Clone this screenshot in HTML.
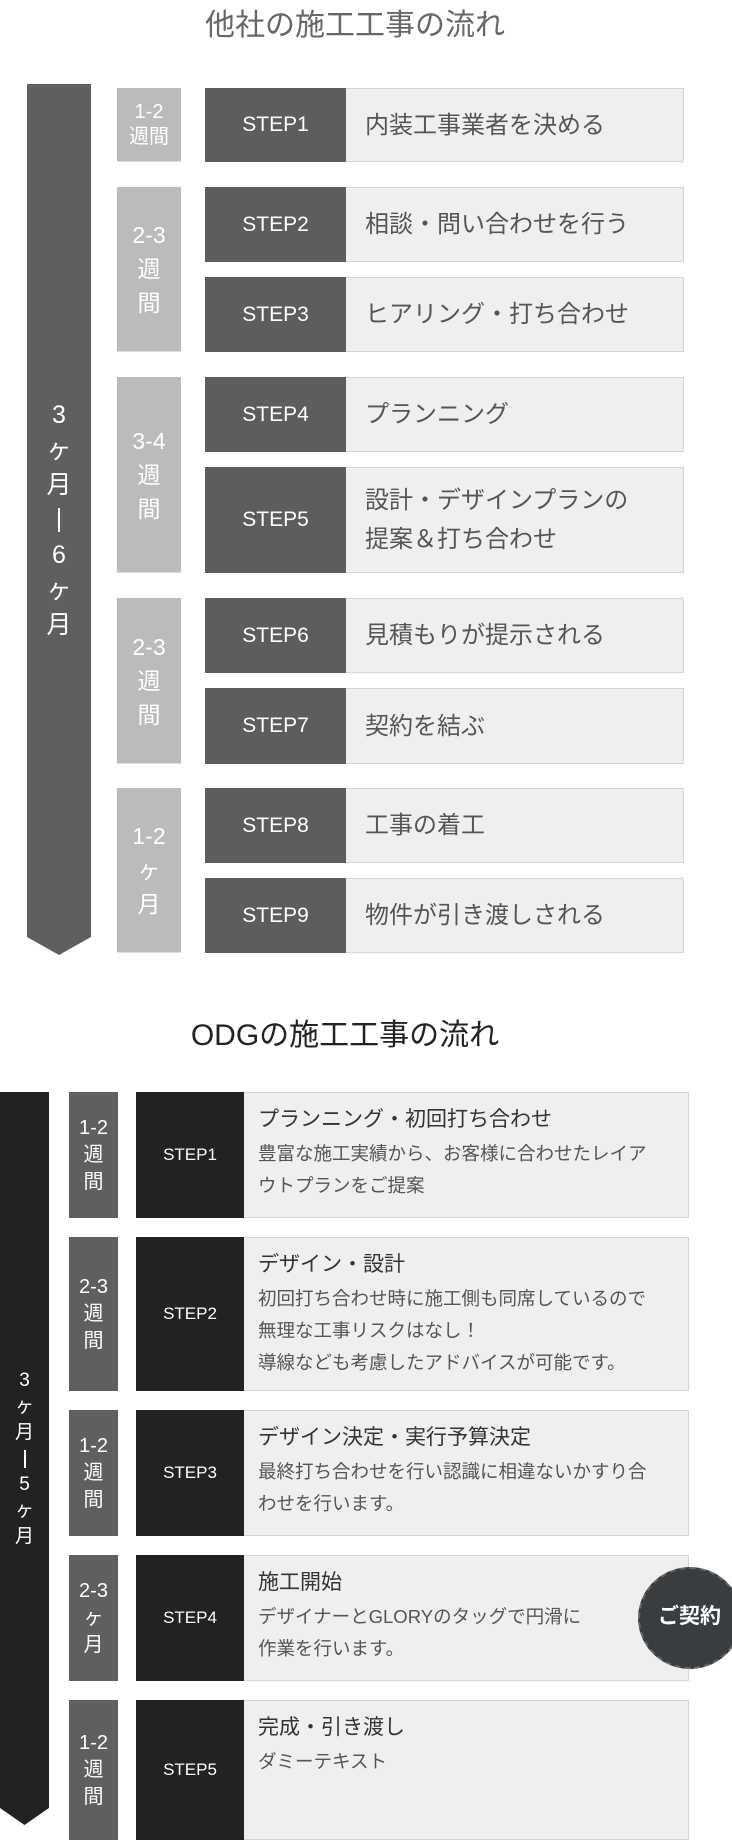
<!DOCTYPE html>
<html><head><meta charset="utf-8">
<style>
*{margin:0;padding:0;box-sizing:border-box}
body{width:732px;height:1825px;background:#fff;position:relative;overflow:hidden;font-family:"Liberation Sans","Noto Sans CJK JP",sans-serif}
.a{position:absolute}
.t1{left:0;width:710px;top:6px;text-align:center;font-size:30px;color:#666;line-height:40px}
.t2{left:0;width:690px;top:1016px;text-align:center;font-size:30px;color:#222;line-height:40px}
.col{display:flex;flex-direction:column;align-items:center;justify-content:center;color:#fff;text-align:center}
.p1{left:117px;width:64px;background:#bbb;font-size:23px;line-height:34px;border-bottom:1px solid #ddd}
.s1{left:205px;width:479px;background:#efefef;border:1px solid #d4d4d4;display:flex}
.s1 .d{width:141px;background:#5d5d5d;color:#fff;font-size:21px;display:flex;align-items:center;justify-content:center;margin:-1px 0 -1px -1px}
.s1 .x{padding-left:19px;font-size:24px;color:#555;display:flex;align-items:center;line-height:39px}
.p2{left:69px;width:49px;background:#5f5f5f;font-size:20px;line-height:27px}
.s2{left:136px;width:553px;background:#efefef;border:1px solid #d4d4d4;border-left:none;display:flex}
.s2 .d{width:108px;background:#222;color:#fff;font-size:17px;display:flex;align-items:center;justify-content:center;margin:-1px 0 -1px 0}
.s2 .x{padding:11px 0 0 14px;color:#555;font-size:18.5px;line-height:32px;white-space:nowrap}
.s2 .x b{display:block;font-weight:normal;color:#333;font-size:21px;line-height:32px;margin-bottom:2px}
</style></head><body>
<div class="a t1">他社の施工工事の流れ</div>
<svg class="a" style="left:27px;top:84px" width="64" height="872"><polygon points="0,0 64,0 64,853 32,871 0,853" fill="#5f5f5f"/></svg>
<div class="a col" style="left:27px;top:398px;width:64px;font-size:25px;line-height:35px">
<span>3</span><span>ヶ</span><span>月</span><span style="display:block;width:2px;height:24px;background:#fff;margin:5px 0 6px"></span><span>6</span><span>ヶ</span><span>月</span></div>

<div class="a col p1" style="top:88px;height:74px;font-size:20px;line-height:25px"><span>1-2</span><span>週間</span></div>
<div class="a col p1" style="top:187px;height:165px"><span>2-3</span><span>週</span><span>間</span></div>
<div class="a col p1" style="top:377px;height:196px"><span>3-4</span><span>週</span><span>間</span></div>
<div class="a col p1" style="top:598px;height:166px"><span>2-3</span><span>週</span><span>間</span></div>
<div class="a col p1" style="top:788px;height:165px"><span>1-2</span><span>ヶ</span><span>月</span></div>

<div class="a s1" style="top:88px;height:74px"><div class="d">STEP1</div><div class="x">内装工事業者を決める</div></div>
<div class="a s1" style="top:187px;height:75px"><div class="d">STEP2</div><div class="x">相談・問い合わせを行う</div></div>
<div class="a s1" style="top:277px;height:75px"><div class="d">STEP3</div><div class="x">ヒアリング・打ち合わせ</div></div>
<div class="a s1" style="top:377px;height:75px"><div class="d">STEP4</div><div class="x">プランニング</div></div>
<div class="a s1" style="top:467px;height:106px"><div class="d">STEP5</div><div class="x">設計・デザインプランの<br>提案＆打ち合わせ</div></div>
<div class="a s1" style="top:598px;height:75px"><div class="d">STEP6</div><div class="x">見積もりが提示される</div></div>
<div class="a s1" style="top:688px;height:76px"><div class="d">STEP7</div><div class="x">契約を結ぶ</div></div>
<div class="a s1" style="top:788px;height:75px"><div class="d">STEP8</div><div class="x">工事の着工</div></div>
<div class="a s1" style="top:878px;height:75px"><div class="d">STEP9</div><div class="x">物件が引き渡しされる</div></div>

<div class="a t2">ODGの施工工事の流れ</div>
<svg class="a" style="left:0;top:1092px" width="50" height="733"><polygon points="0,0 49,0 49,716 24.5,733 0,716" fill="#222"/></svg>
<div class="a col" style="left:0;top:1368px;width:49px;font-size:19px;line-height:26px">
<span>3</span><span>ヶ</span><span>月</span><span style="display:block;width:2px;height:18px;background:#fff;margin:4px 0"></span><span>5</span><span>ヶ</span><span>月</span></div>

<div class="a col p2" style="top:1092px;height:126px"><span>1-2</span><span>週</span><span>間</span></div>
<div class="a col p2" style="top:1237px;height:154px"><span>2-3</span><span>週</span><span>間</span></div>
<div class="a col p2" style="top:1410px;height:126px"><span>1-2</span><span>週</span><span>間</span></div>
<div class="a col p2" style="top:1555px;height:126px"><span>2-3</span><span>ヶ</span><span>月</span></div>
<div class="a col p2" style="top:1700px;height:140px"><span>1-2</span><span>週</span><span>間</span></div>

<div class="a s2" style="top:1092px;height:126px"><div class="d">STEP1</div><div class="x"><b>プランニング・初回打ち合わせ</b>豊富な施工実績から、お客様に合わせたレイア<br>ウトプランをご提案</div></div>
<div class="a s2" style="top:1237px;height:154px"><div class="d">STEP2</div><div class="x"><b>デザイン・設計</b>初回打ち合わせ時に施工側も同席しているので<br>無理な工事リスクはなし！<br>導線なども考慮したアドバイスが可能です。</div></div>
<div class="a s2" style="top:1410px;height:126px"><div class="d">STEP3</div><div class="x"><b>デザイン決定・実行予算決定</b>最終打ち合わせを行い認識に相違ないかすり合<br>わせを行います。</div></div>
<div class="a s2" style="top:1555px;height:126px"><div class="d">STEP4</div><div class="x"><b>施工開始</b>デザイナーとGLORYのタッグで円滑に<br>作業を行います。</div></div>
<div class="a s2" style="top:1700px;height:140px"><div class="d">STEP5</div><div class="x"><b>完成・引き渡し</b>ダミーテキスト</div></div>

<div class="a" style="left:638px;top:1567px;width:104px;height:102px;border-radius:50%;background:#3a3d40;border:2px dashed #666;"></div>
<div class="a" style="left:658px;top:1602px;font-size:21px;font-weight:bold;color:#fff;line-height:30px">ご契約</div>
</body></html>
